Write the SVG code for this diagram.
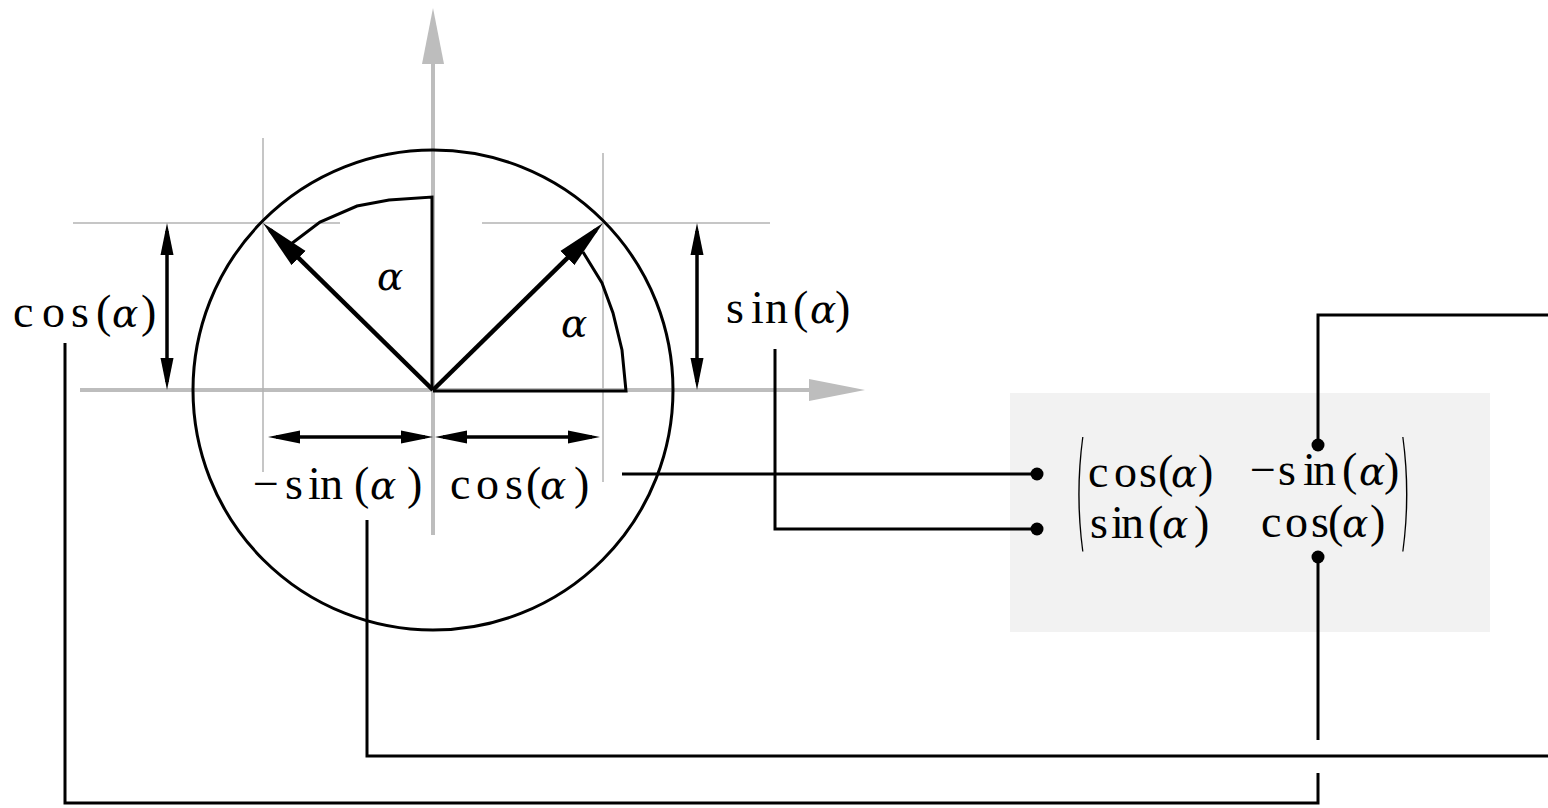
<svg xmlns="http://www.w3.org/2000/svg" width="1548" height="808" viewBox="0 0 1548 808">
<style>
.ax{stroke:#bdbdbd;stroke-width:4;fill:none}
.guide{stroke:#b3b3b3;stroke-width:1.5;fill:none}
.blk{stroke:#000;stroke-width:3;fill:none}
.vec{stroke:#000;stroke-width:4.5;fill:none}
.dim{stroke:#000;stroke-width:3.5;fill:none}
.conn{stroke:#000;stroke-width:3;fill:none}
text{font-family:"Liberation Serif","Times New Roman",serif;font-size:46px;fill:#000}
.it{font-family:"DejaVu Serif","Liberation Serif",serif;font-style:italic;font-size:39px}
.big{font-family:"DejaVu Sans ExtraLight","DejaVu Sans",sans-serif;font-weight:200;font-size:42px}
</style>
<defs>
<marker id="axh" markerUnits="userSpaceOnUse" viewBox="0 0 56 22" markerWidth="56" markerHeight="22" refX="1" refY="11" orient="auto"><path d="M0,0 L56,11 L0,22 Z" fill="#bdbdbd"/></marker>
<marker id="vech" markerUnits="userSpaceOnUse" viewBox="0 0 50 22" markerWidth="50" markerHeight="22" refX="40" refY="11" orient="auto"><path d="M0,1 L50,11 L0,21 Z" fill="#000"/></marker>
<marker id="dblh" markerUnits="userSpaceOnUse" viewBox="0 0 32 14" markerWidth="32" markerHeight="14" refX="24" refY="7" orient="auto-start-reverse"><path d="M0,0.5 L32,7 L0,13.5 Z" fill="#000"/></marker>
<marker id="dot" markerUnits="userSpaceOnUse" viewBox="0 0 14 14" markerWidth="14" markerHeight="14" refX="7" refY="7"><circle cx="7" cy="7" r="6.5" fill="#000"/></marker>
</defs>

<g id="axes">
<line class="ax" x1="433" y1="535" x2="433" y2="63" marker-end="url(#axh)"/>
<line class="ax" x1="80" y1="390" x2="810" y2="390" marker-end="url(#axh)"/>
</g>

<g id="guides">
<line class="guide" x1="263" y1="138" x2="263" y2="472"/>
<line class="guide" x1="603" y1="153" x2="603" y2="482"/>
<line class="guide" x1="73" y1="223" x2="340" y2="223"/>
<line class="guide" x1="482" y1="223" x2="770" y2="223"/>
</g>

<g id="unit-circle">
<circle class="blk" cx="433" cy="390" r="240"/>
</g>

<g id="angle-left">
<polyline class="blk" points="291,244 320,222 357,206 389,200 432,197 432,390"/>
<text class="it" x="377" y="290">α</text>
</g>
<g id="angle-right">
<polyline class="blk" points="583,252 602,283 613,313 622,350 626,391 433,391"/>
<text class="it" x="561" y="337">α</text>
</g>

<g id="vectors">
<line class="vec" x1="433" y1="390" x2="270.1" y2="230" marker-end="url(#vech)"/>
<line class="vec" x1="433" y1="390" x2="595.9" y2="230" marker-end="url(#vech)"/>
</g>

<g id="dimensions">
<line class="dim" x1="167" y1="231" x2="167" y2="382" marker-start="url(#dblh)" marker-end="url(#dblh)"/>
<line class="dim" x1="697" y1="231" x2="697" y2="382" marker-start="url(#dblh)" marker-end="url(#dblh)"/>
<line class="dim" x1="276" y1="437" x2="425" y2="437" marker-start="url(#dblh)" marker-end="url(#dblh)"/>
<line class="dim" x1="443" y1="437" x2="592" y2="437" marker-start="url(#dblh)" marker-end="url(#dblh)"/>
</g>

<g id="label-cos-left">
<text y="327"><tspan x="13 42 71 96">cos(</tspan><tspan class="it" x="112">α</tspan><tspan x="141">)</tspan></text>
</g>
<g id="label-sin-right">
<text y="323"><tspan x="726 751 765 793">sin(</tspan><tspan class="it" x="810">α</tspan><tspan x="835">)</tspan></text>
</g>
<g id="label-minus-sin">
<text y="499"><tspan x="253 285 308 320 354">−sin(</tspan><tspan class="it" x="370">α</tspan><tspan x="407">)</tspan></text>
</g>
<g id="label-cos-bottom">
<text y="499"><tspan x="450 476 505 526">cos(</tspan><tspan class="it" x="540">α</tspan><tspan x="574">)</tspan></text>
</g>

<g id="matrix">
<rect x="1010" y="393" width="480" height="239" fill="#f2f2f2"/>
<text class="big" transform="translate(1075,535) scale(0.7,3.07)">(</text>
<text class="big" transform="translate(1399,535) scale(0.7,3.07)">)</text>
<text y="487"><tspan x="1088 1114 1139 1158">cos(</tspan><tspan class="it" x="1171">α</tspan><tspan x="1198">)</tspan></text>
<text y="538"><tspan x="1090 1111 1121 1148">sin(</tspan><tspan class="it" x="1162">α</tspan><tspan x="1194">)</tspan></text>
<text y="485"><tspan x="1250 1278 1303 1313 1342">−sin(</tspan><tspan class="it" x="1359">α</tspan><tspan x="1384">)</tspan></text>
<text y="537"><tspan x="1261 1285 1311 1328">cos(</tspan><tspan class="it" x="1342">α</tspan><tspan x="1370">)</tspan></text>
</g>

<g id="connectors">
<polyline class="conn" points="622,474 1037,474" marker-end="url(#dot)"/>
<polyline class="conn" points="775,349 775,529 1037,529" marker-end="url(#dot)"/>
<polyline class="conn" points="1548,315 1318,315 1318,445" marker-end="url(#dot)"/>
<polyline class="conn" points="367,520 367,756 1548,756"/>
<polyline class="conn" points="1318,740 1318,557" marker-end="url(#dot)"/>
<polyline class="conn" points="1318,773 1318,803 65,803 65,343"/>
</g>
</svg>
